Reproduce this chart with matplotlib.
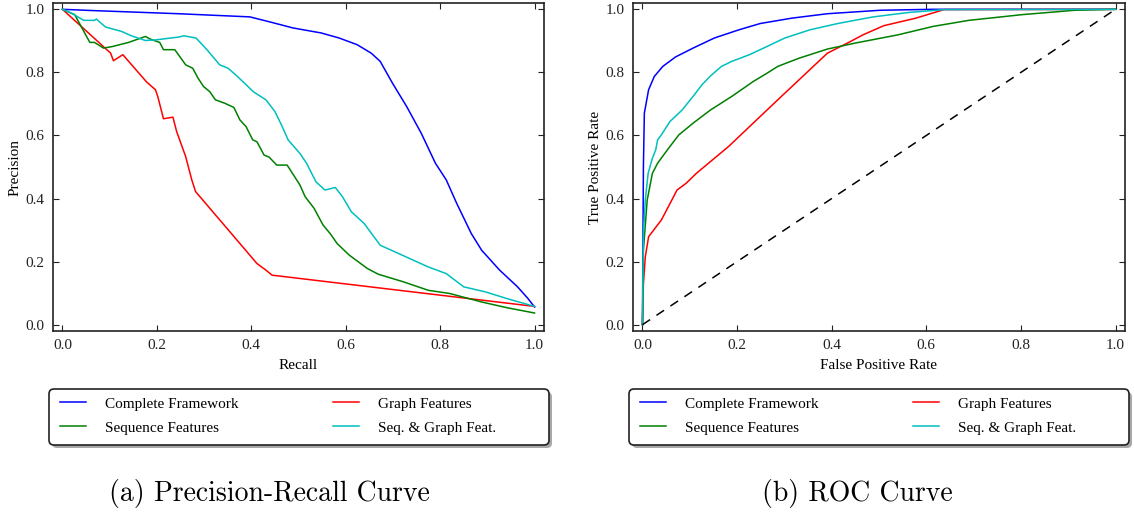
import numpy as np
import matplotlib
matplotlib.use("Agg")
import matplotlib.pyplot as plt
from matplotlib.lines import Line2D
from matplotlib.patches import FancyBboxPatch

plt.rcParams['font.family'] = ['Liberation Serif', 'DejaVu Serif']

# ---- Precision-Recall data ----
pr_full_r = [0.0, 0.064, 0.246, 0.397, 0.442, 0.488, 0.548, 0.586, 0.624, 0.654, 0.673,
             0.699, 0.729, 0.760, 0.790, 0.813, 0.835, 0.866, 0.888, 0.926, 0.964, 0.986, 1.0]
pr_full_p = [1.0, 0.996, 0.986, 0.976, 0.959, 0.941, 0.925, 0.909, 0.888, 0.861, 0.835,
             0.766, 0.692, 0.607, 0.512, 0.459, 0.385, 0.289, 0.236, 0.173, 0.120, 0.083, 0.056]

pr_graph_r = [0.0, 0.094, 0.102, 0.108, 0.128, 0.178, 0.197, 0.202, 0.214, 0.234, 0.242,
              0.261, 0.274, 0.282, 0.412, 0.431, 0.444, 1.0]
pr_graph_p = [1.0, 0.872, 0.861, 0.837, 0.856, 0.770, 0.745, 0.723, 0.653, 0.658, 0.612,
              0.533, 0.459, 0.422, 0.194, 0.173, 0.157, 0.058]

pr_seq_r = [0.0, 0.026, 0.058, 0.068, 0.087, 0.106, 0.140, 0.176, 0.185, 0.206, 0.214,
            0.238, 0.261, 0.276, 0.287, 0.299, 0.312, 0.324, 0.344, 0.363, 0.376, 0.389,
            0.403, 0.412, 0.427, 0.438, 0.454, 0.476, 0.503, 0.514, 0.533, 0.552, 0.567,
            0.582, 0.608, 0.646, 0.669, 0.722, 0.775, 0.820, 0.888, 0.941, 1.0]
pr_seq_p = [1.0, 0.983, 0.895, 0.895, 0.877, 0.882, 0.895, 0.914, 0.906, 0.895, 0.872,
            0.872, 0.824, 0.813, 0.782, 0.755, 0.739, 0.713, 0.702, 0.689, 0.649, 0.628,
            0.586, 0.580, 0.538, 0.531, 0.506, 0.506, 0.443, 0.406, 0.369, 0.316, 0.289,
            0.257, 0.220, 0.178, 0.160, 0.136, 0.109, 0.099, 0.072, 0.054, 0.037]

pr_both_r = [0.0, 0.019, 0.045, 0.068, 0.072, 0.091, 0.125, 0.146, 0.176, 0.197, 0.246,
             0.257, 0.283, 0.306, 0.333, 0.351, 0.367, 0.389, 0.404, 0.431, 0.450, 0.465,
             0.478, 0.503, 0.517, 0.537, 0.556, 0.578, 0.593, 0.612, 0.639, 0.673, 0.775,
             0.813, 0.850, 0.896, 0.941, 1.0]
pr_both_p = [1.0, 0.988, 0.965, 0.965, 0.969, 0.944, 0.930, 0.916, 0.901, 0.903, 0.912,
             0.916, 0.909, 0.872, 0.824, 0.813, 0.792, 0.761, 0.739, 0.713, 0.676, 0.630,
             0.586, 0.543, 0.512, 0.453, 0.427, 0.435, 0.406, 0.358, 0.321, 0.252, 0.183,
             0.162, 0.120, 0.104, 0.083, 0.058]

# ---- ROC data ----
roc_full_fpr = [0.0, 0.002, 0.004, 0.013, 0.025, 0.043, 0.070, 0.107, 0.152, 0.204, 0.249,
                0.316, 0.391, 0.503, 0.615, 1.0]
roc_full_tpr = [0.0, 0.501, 0.671, 0.745, 0.787, 0.819, 0.849, 0.877, 0.909, 0.935, 0.955,
                0.972, 0.986, 0.997, 1.0, 1.0]

roc_graph_fpr = [0.0, 0.002, 0.006, 0.013, 0.040, 0.062, 0.073, 0.092, 0.114, 0.182, 0.286,
                 0.391, 0.436, 0.466, 0.510, 0.578, 0.637, 1.0]
roc_graph_tpr = [0.0, 0.130, 0.215, 0.279, 0.332, 0.395, 0.427, 0.448, 0.480, 0.565, 0.713,
                 0.861, 0.895, 0.919, 0.948, 0.972, 0.999, 1.0]

roc_seq_fpr = [0.0, 0.002, 0.010, 0.021, 0.032, 0.055, 0.077, 0.107, 0.144, 0.189, 0.234,
               0.264, 0.286, 0.331, 0.391, 0.450, 0.540, 0.615, 0.690, 0.802, 0.914, 1.0]
roc_seq_tpr = [0.0, 0.236, 0.395, 0.480, 0.512, 0.559, 0.602, 0.639, 0.681, 0.724, 0.771,
               0.798, 0.819, 0.845, 0.874, 0.893, 0.919, 0.946, 0.965, 0.983, 0.997, 1.0]

roc_both_fpr = [0.0, 0.002, 0.006, 0.012, 0.021, 0.028, 0.032, 0.040, 0.058, 0.084, 0.107,
                0.126, 0.144, 0.167, 0.189, 0.226, 0.256, 0.301, 0.354, 0.413, 0.488, 0.563,
                0.637, 1.0]
roc_both_tpr = [0.0, 0.289, 0.395, 0.480, 0.528, 0.554, 0.586, 0.602, 0.644, 0.681, 0.724,
                0.761, 0.789, 0.819, 0.835, 0.856, 0.877, 0.909, 0.935, 0.955, 0.976, 0.990,
                0.999, 1.0]

labels = ['Complete Framework', 'Sequence Features', 'Graph Features', 'Seq. & Graph Feat.']
colors = {'full': '#0000ff', 'seq': '#008000', 'graph': '#ff0000', 'both': '#00bfbf'}
tick_vals = [0.0, 0.2, 0.4, 0.6, 0.8, 1.0]

fig = plt.figure(figsize=(11.34, 5.12), dpi=100)
ax1 = fig.add_axes([53 / 1134, 1 - 331 / 512, 491 / 1134, 328 / 512])
ax2 = fig.add_axes([633 / 1134, 1 - 331 / 512, 492 / 1134, 328 / 512])


def style_axes(ax):
    ax.set_xlim(-0.02, 1.02)
    ax.set_ylim(-0.02, 1.02)
    ax.set_xticks(tick_vals)
    ax.set_yticks(tick_vals)
    ax.set_xticklabels(['%.1f' % v for v in tick_vals])
    ax.set_yticklabels(['%.1f' % v for v in tick_vals])
    ax.tick_params(direction='in', length=4, width=0.8, top=True, right=True,
                   labelsize=11, pad=6, colors='#222222', labelcolor='#222222')
    for s in ax.spines.values():
        s.set_linewidth(1.2)
        s.set_color('#222222')


lw = 1.1
ax1.plot(pr_full_r, pr_full_p, color=colors['full'], lw=lw)
ax1.plot(pr_graph_r, pr_graph_p, color=colors['graph'], lw=lw)
ax1.plot(pr_seq_r, pr_seq_p, color=colors['seq'], lw=lw)
ax1.plot(pr_both_r, pr_both_p, color=colors['both'], lw=lw)
style_axes(ax1)
ax1.set_xlabel('Recall', fontsize=11, labelpad=5)
ax1.set_ylabel('Precision', fontsize=11, labelpad=3)

ax2.plot(roc_full_fpr, roc_full_tpr, color=colors['full'], lw=lw)
ax2.plot(roc_graph_fpr, roc_graph_tpr, color=colors['graph'], lw=lw)
ax2.plot(roc_seq_fpr, roc_seq_tpr, color=colors['seq'], lw=lw)
ax2.plot(roc_both_fpr, roc_both_tpr, color=colors['both'], lw=lw)
ax2.plot([0, 1], [0, 1], color='black', lw=1.1, ls=(0, (6, 5)))
style_axes(ax2)
ax2.set_xlabel('False Positive Rate', fontsize=11, labelpad=5)
ax2.set_ylabel('True Positive Rate', fontsize=11, labelpad=3)

handles = [Line2D([], [], color=colors[k], lw=lw) for k in ['full', 'seq', 'graph', 'both']]

# legend boxes below each plot (frame drawn separately so it can be wider than the text)
for x0 in (49, 629):
    shadow = FancyBboxPatch(((x0 + 3) / 100, (512 - 448) / 100), 5.0, 0.56,
                            boxstyle='round,pad=0,rounding_size=0.05',
                            transform=fig.dpi_scale_trans, facecolor='#a8a8a8',
                            edgecolor='none', zorder=1)
    box = FancyBboxPatch((x0 / 100, (512 - 445) / 100), 5.0, 0.56,
                         boxstyle='round,pad=0,rounding_size=0.05',
                         transform=fig.dpi_scale_trans, facecolor='white',
                         edgecolor='#222222', lw=1.2, zorder=2)
    fig.add_artist(shadow)
    fig.add_artist(box)
    leg = fig.legend(handles, labels, ncol=2, loc='upper left',
                     bbox_to_anchor=((x0 + 11) / 1134, 1 - 397 / 512),
                     borderaxespad=0, borderpad=0, fontsize=11, handlelength=1.7,
                     handletextpad=1.25, labelspacing=0.68, columnspacing=6.2,
                     frameon=False)
    leg.set_zorder(3)

fig.text(269 / 1134, 1 - 493 / 512, '(a) Precision-Recall Curve', family='cmr10',
         fontsize=20, ha='center', va='center')
fig.text(857 / 1134, 1 - 493 / 512, '(b) ROC Curve', family='cmr10',
         fontsize=20, ha='center', va='center')

fig.savefig('out.png', dpi=100)
